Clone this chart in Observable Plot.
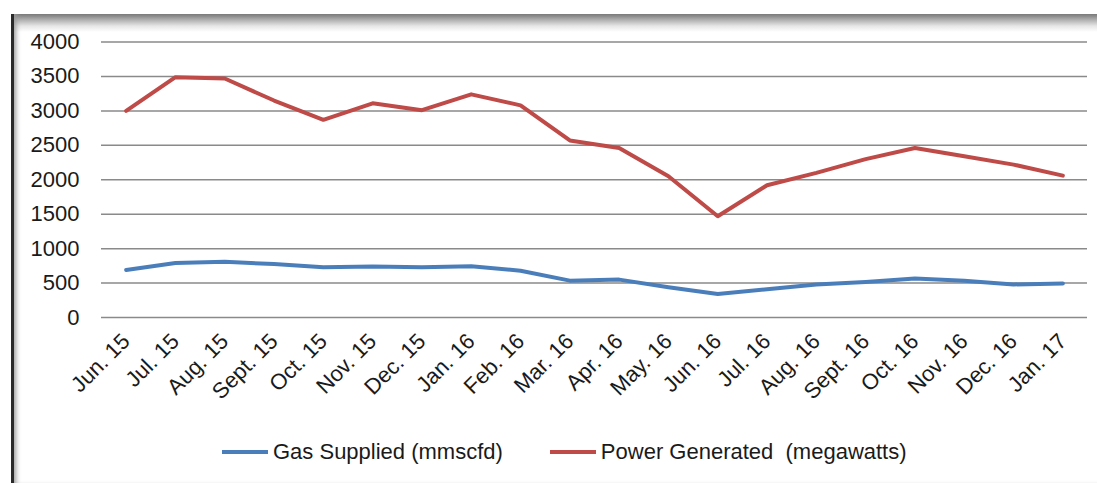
<!DOCTYPE html>
<html>
<head>
<meta charset="utf-8">
<script src="https://cdn.jsdelivr.net/npm/d3@7"></script>
<script src="https://cdn.jsdelivr.net/npm/@observablehq/plot@0.6"></script>
<style>
  html, body { margin: 0; padding: 0; background: #fff; }
  body { width: 1097px; height: 483px; position: relative; overflow: hidden; font-family: "Liberation Sans", Arial, sans-serif; color: #1a1a1a; }
  #frame { position: absolute; left: 11px; top: 14px; right: 0; bottom: 0;
    border-left: 3px solid #2a2a2a;
    background: linear-gradient(to bottom, #787878 0px, #a8a8a8 5px, #e6e6e6 12px, #ffffff 18px);
    box-shadow: inset 5px 0 5px -3px #9a9a9a; }
  #chart { position: absolute; left: 0; top: 0; }
  #legend { position: absolute; left: 222px; top: 439px; display: flex; align-items: center; font-size: 22px; color: #1a1a1a; white-space: nowrap; }
  .item { display: flex; align-items: center; }
  .sw { width: 46px; height: 4px; margin-right: 5px; }
</style>
</head>
<body>
<div id="frame"></div>
<div id="chart"></div>
<div id="legend"></div>
<script>
const months = ["Jun. 15","Jul. 15","Aug. 15","Sept. 15","Oct. 15","Nov. 15","Dec. 15","Jan. 16","Feb. 16","Mar. 16","Apr. 16","May. 16","Jun. 16","Jul. 16","Aug. 16","Sept. 16","Oct. 16","Nov. 16","Dec. 16","Jan. 17"];
const gasSupplied = [690, 790, 810, 775, 730, 740, 730, 745, 680, 535, 550, 440, 340, 410, 480, 515, 565, 535, 480, 495];
const powerGenerated = [3000, 3490, 3470, 3150, 2870, 3110, 3010, 3240, 3080, 2570, 2460, 2050, 1470, 1920, 2100, 2300, 2460, 2340, 2220, 2060];
const yTicks = [0, 500, 1000, 1500, 2000, 2500, 3000, 3500, 4000];
const seriesNames = ["Gas Supplied (mmscfd)", "Power Generated  (megawatts)"];
const seriesColors = ["#4a7ebb", "#be4b48"];

const rows = [];
months.forEach((m, i) => {
  rows.push({month: m, value: gasSupplied[i], series: seriesNames[0]});
  rows.push({month: m, value: powerGenerated[i], series: seriesNames[1]});
});

const chart = Plot.plot({
  width: 1097,
  height: 420,
  marginLeft: 101,
  marginRight: 10,
  marginTop: 41.5,
  marginBottom: 103,
  style: {background: "transparent", fontFamily: "'Liberation Sans', Arial, sans-serif", color: "#1a1a1a"},
  x: {type: "point", domain: months, padding: 0.5, round: false, label: null},
  y: {domain: [0, 4000], label: null},
  color: {domain: seriesNames, range: seriesColors},
  marks: [
    Plot.ruleY(yTicks, {stroke: "#8a8a8a", strokeWidth: 1.5, strokeOpacity: 1}),
    Plot.axisY({ticks: yTicks, tickSize: 0, tickPadding: 22, fontSize: 22, label: null, tickFormat: d => String(d)}),
    Plot.axisX({tickSize: 0, tickRotate: -45, tickPadding: 20, fontSize: 22, label: null}),
    Plot.line(rows, {x: "month", y: "value", stroke: "series", z: "series", strokeWidth: 4, strokeLinejoin: "round", strokeLinecap: "round"})
  ]
});
document.getElementById("chart").appendChild(chart);

const legend = document.getElementById("legend");
seriesNames.forEach((name, i) => {
  const item = document.createElement("div");
  item.className = "item";
  item.style.marginRight = i === 0 ? "47px" : "0";
  const sw = document.createElement("div");
  sw.className = "sw";
  sw.style.background = seriesColors[i];
  const label = document.createElement("span");
  label.textContent = name;
  label.style.whiteSpace = "pre";
  item.appendChild(sw);
  item.appendChild(label);
  legend.appendChild(item);
});
</script>
</body>
</html>
